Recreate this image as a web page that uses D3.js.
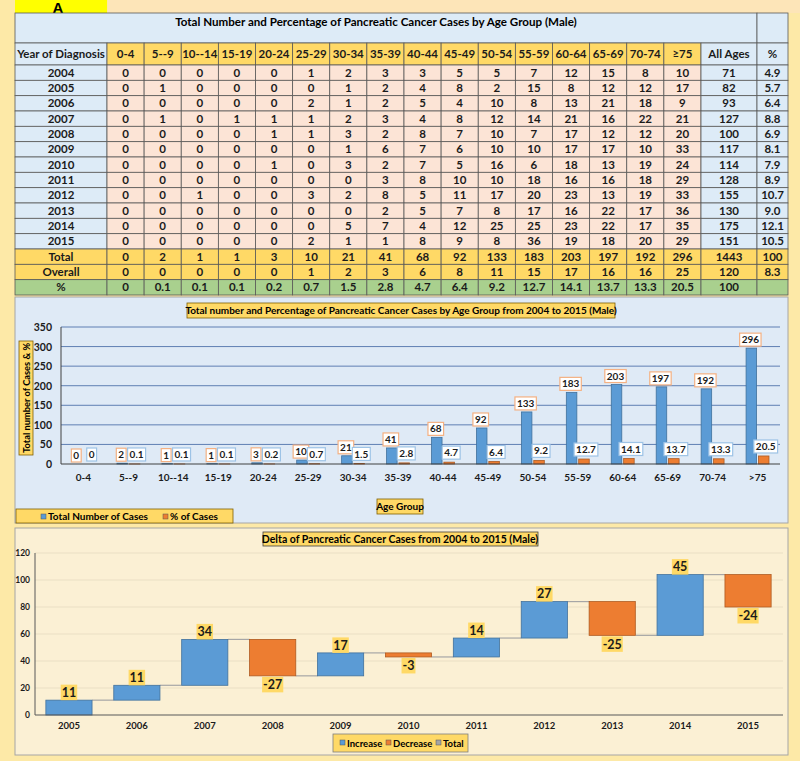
<!DOCTYPE html>
<html>
<head>
<meta charset="utf-8">
<script src="https://cdn.jsdelivr.net/npm/d3@7"></script>
<style>
  body { margin: 0; background: #fde9a7; }
  svg { display: block; font-family: Lato, 'Open Sans', sans-serif; font-weight: bold; }
</style>
</head>
<body>
<svg></svg>
<script>
var ageGroups = ['0-4','5--9','10--14','15-19','20-24','25-29','30-34','35-39','40-44','45-49','50-54','55-59','60-64','65-69','70-74','≥75'];
var chartAgeLabels = ['0-4','5--9','10--14','15-19','20-24','25-29','30-34','35-39','40-44','45-49','50-54','55-59','60-64','65-69','70-74','>75'];
var years = ['2004','2005','2006','2007','2008','2009','2010','2011','2012','2013','2014','2015'];
var casesByYear = [
  [0,0,0,0,0,1,2,3,3,5,5,7,12,15,8,10],
  [0,1,0,0,0,0,1,2,4,8,2,15,8,12,12,17],
  [0,0,0,0,0,2,1,2,5,4,10,8,13,21,18,9],
  [0,1,0,1,1,1,2,3,4,8,12,14,21,16,22,21],
  [0,0,0,0,1,1,3,2,8,7,10,7,17,12,12,20],
  [0,0,0,0,0,0,1,6,7,6,10,10,17,17,10,33],
  [0,0,0,0,1,0,3,2,7,5,16,6,18,13,19,24],
  [0,0,0,0,0,0,0,3,8,10,10,18,16,16,18,29],
  [0,0,1,0,0,3,2,8,5,11,17,20,23,13,19,33],
  [0,0,0,0,0,0,0,2,5,7,8,17,16,22,17,36],
  [0,0,0,0,0,0,5,7,4,12,25,25,23,22,17,35],
  [0,0,0,0,0,2,1,1,8,9,8,36,19,18,20,29]
];
var allAges = [71,82,93,127,100,117,114,128,155,130,175,151];
var allAgesPct = ['4.9','5.7','6.4','8.8','6.9','8.1','7.9','8.9','10.7','9.0','12.1','10.5'];
var totalCases = [0,2,1,1,3,10,21,41,68,92,133,183,203,197,192,296];
var overallCases = [0,0,0,0,0,1,2,3,6,8,11,15,17,16,16,25];
var pctCases = [0,0.1,0.1,0.1,0.2,0.7,1.5,2.8,4.7,6.4,9.2,12.7,14.1,13.7,13.3,20.5];
var deltaYears = ['2005','2006','2007','2008','2009','2010','2011','2012','2013','2014','2015'];
var deltas = [11,11,34,-27,17,-3,14,27,-25,45,-24];

var svg = d3.select('svg').attr('width', 800).attr('height', 761);

var gold = '#ffd966', peach = '#fce4d6', lblue = '#ddebf7', green = '#a9d08e';

// ---------- "A" tag ----------
svg.append('rect').attr('x', 108).attr('y', 0).attr('width', 692).attr('height', 13).attr('fill', '#fde5b8');
svg.append('rect').attr('x', 15).attr('y', 0).attr('width', 92).attr('height', 13).attr('fill', '#ffff00');
svg.append('text').attr('x', 58).attr('y', 13).attr('text-anchor', 'middle')
  .style('font-size', '15px').style('font-family', "'Liberation Sans', Arial").text('A');

// ---------- table ----------
var table = svg.append('g');
var colX = d3.scaleBand().domain(ageGroups).range([107, 701]);
var bodyRows = years.concat(['Total', 'Overall', '%']);
var rowY = d3.scaleBand().domain(bodyRows).range([65, 295]);

function cell(x, y, w, h, fill, txt) {
  table.append('rect').attr('x', x).attr('y', y).attr('width', w).attr('height', h)
    .attr('fill', fill).attr('stroke', '#595959').attr('stroke-width', 0.8);
  if (txt !== undefined && txt !== '') {
    table.append('text').attr('x', x + w / 2).attr('y', y + h / 2 + 4)
      .attr('text-anchor', 'middle').style('font-size', '11.5px').attr('fill', '#1b1b1b').text(txt);
  }
}

// title row
cell(15, 13, 742, 30, lblue);
cell(757, 13, 31, 30, lblue);
table.append('text').attr('x', 376).attr('y', 26).attr('text-anchor', 'middle')
  .style('font-size', '11.6px').text('Total Number and Percentage of Pancreatic Cancer Cases by Age Group (Male)');

// header row
cell(15, 43, 92, 22, lblue, 'Year of Diagnosis');
ageGroups.forEach(function(a) { cell(colX(a), 43, colX.bandwidth(), 22, gold, a); });
cell(701, 43, 56, 22, lblue, 'All Ages');
cell(757, 43, 31, 22, lblue, '%');

// body rows
bodyRows.forEach(function(r, i) {
  var y = rowY(r), h = rowY.bandwidth();
  var vals, all, pct, yearFill, cellFill, sideFill;
  if (i < years.length) {
    vals = casesByYear[i]; all = allAges[i]; pct = allAgesPct[i];
    yearFill = lblue; cellFill = peach; sideFill = lblue;
  } else if (r === 'Total') {
    vals = totalCases; all = d3.sum(totalCases); pct = '100';
    yearFill = cellFill = sideFill = gold;
  } else if (r === 'Overall') {
    vals = overallCases; all = 120; pct = '8.3';
    yearFill = cellFill = sideFill = gold;
  } else {
    vals = pctCases; all = 100; pct = '';
    yearFill = cellFill = sideFill = green;
  }
  cell(15, y, 92, h, yearFill, r);
  ageGroups.forEach(function(a, j) { cell(colX(a), y, colX.bandwidth(), h, cellFill, vals[j]); });
  cell(701, y, 56, h, sideFill, all);
  cell(757, y, 31, h, sideFill, pct);
});

// ---------- label box helper ----------
function boxLabel(g, cx, y, txt, size, fill, stroke, pad, below) {
  var t = g.append('text').attr('x', cx).attr('text-anchor', 'middle')
    .style('font-size', size + 'px').attr('fill', '#1b1b1b').text(txt);
  var w = t.node().getComputedTextLength() + pad, h = size + 3;
  var top = below ? y : y - h;
  t.attr('y', top + h / 2 + size * 0.36);
  g.insert('rect', function() { return t.node(); })
    .attr('x', cx - w / 2).attr('y', top).attr('width', w).attr('height', h)
    .attr('fill', fill).attr('stroke', stroke).attr('stroke-width', 1.2);
}

// ---------- bar chart panel ----------
var p2 = svg.append('g');
p2.append('rect').attr('x', 15).attr('y', 297).attr('width', 773).attr('height', 226)
  .attr('fill', '#dfeaf6').attr('stroke', '#a6a6a6');

var x = d3.scaleBand().domain(chartAgeLabels).range([61, 780]).paddingInner(0.49).paddingOuter(0.245);
var xSub = d3.scaleBand().domain(['n', 'p']).range([0, x.bandwidth()]).paddingInner(0.15);
var y = d3.scaleLinear().domain([0, 350]).range([464, 327]);

p2.append('g').selectAll('line').data(y.ticks(7).filter(function(d) { return d > 0; })).join('line')
  .attr('x1', 61).attr('x2', 780).attr('y1', d => y(d)).attr('y2', d => y(d))
  .attr('stroke', '#5f7fb3').attr('stroke-width', 1);

p2.append('g').selectAll('text').data(y.ticks(7)).join('text')
  .attr('x', 52).attr('y', d => y(d) + 4).attr('text-anchor', 'end')
  .style('font-size', '10.5px').attr('fill', '#1b1b1b').text(d => d);

p2.append('line').attr('x1', 61).attr('x2', 61).attr('y1', 327).attr('y2', 464).attr('stroke', '#404040');

var groups = p2.append('g').selectAll('g').data(chartAgeLabels).join('g')
  .attr('transform', d => 'translate(' + x(d) + ',0)');

groups.append('rect').attr('x', xSub('n')).attr('width', xSub.bandwidth())
  .attr('y', (d, i) => y(totalCases[i])).attr('height', (d, i) => y(0) - y(totalCases[i]))
  .attr('fill', '#5b9bd5').attr('stroke', '#41719c').attr('stroke-width', 0.8);
groups.append('rect').attr('x', xSub('p')).attr('width', xSub.bandwidth())
  .attr('y', (d, i) => y(pctCases[i])).attr('height', (d, i) => y(0) - y(pctCases[i]))
  .attr('fill', '#ed7d31').attr('stroke', '#ae5a21').attr('stroke-width', 0.8);

p2.append('line').attr('x1', 61).attr('x2', 780).attr('y1', 464).attr('y2', 464).attr('stroke', '#404040').attr('stroke-width', 1.2);

chartAgeLabels.forEach(function(d, i) {
  var bx = x(d) + xSub('n') + xSub.bandwidth() / 2 - 1;
  var px = x(d) + xSub('p') + xSub.bandwidth() / 2 + 2;
  boxLabel(p2, bx, y(totalCases[i]) - 2, totalCases[i], 10, '#ffffff', '#f4b183', 4);
  boxLabel(p2, px, Math.min(y(pctCases[i]) - 3, 461), pctCases[i], 10, '#ffffff', '#9dc3e6', 4);
});

p2.append('g').selectAll('text').data(chartAgeLabels).join('text')
  .attr('x', d => x(d) + x.bandwidth() / 2).attr('y', 481).attr('text-anchor', 'middle')
  .style('font-size', '10px').attr('fill', '#1b1b1b').text(d => d);

// titles / legend
p2.append('rect').attr('x', 187).attr('y', 303).attr('width', 428).attr('height', 15)
  .attr('fill', gold).attr('stroke', '#7f6000').attr('stroke-width', 0.8);
p2.append('text').attr('x', 401).attr('y', 314).attr('text-anchor', 'middle').style('font-size', '10px')
  .text('Total number and Percentage of Pancreatic Cancer Cases by Age Group from 2004 to 2015 (Male)');

p2.append('rect').attr('x', 19).attr('y', 341).attr('width', 14).attr('height', 114)
  .attr('fill', gold).attr('stroke', '#7f6000').attr('stroke-width', 0.8);
p2.append('text').attr('transform', 'translate(29.5,398) rotate(-90)').attr('text-anchor', 'middle')
  .style('font-size', '9.3px').text('Total number of Cases & %');

p2.append('rect').attr('x', 377).attr('y', 499).attr('width', 46).attr('height', 15)
  .attr('fill', gold).attr('stroke', '#7f6000').attr('stroke-width', 0.8);
p2.append('text').attr('x', 400).attr('y', 510).attr('text-anchor', 'middle').style('font-size', '10px').text('Age Group');

p2.append('rect').attr('x', 16).attr('y', 509).attr('width', 217).attr('height', 14)
  .attr('fill', gold).attr('stroke', '#7f6000').attr('stroke-width', 0.8);
[['Total Number of Cases', '#5b9bd5', 41], ['% of Cases', '#ed7d31', 163]].forEach(function(l) {
  p2.append('rect').attr('x', l[2]).attr('y', 514).attr('width', 5).attr('height', 5).attr('fill', l[1]).attr('stroke', '#555').attr('stroke-width', 0.5);
  p2.append('text').attr('x', l[2] + 7).attr('y', 520).style('font-size', '10px').text(l[0]);
});

// ---------- waterfall panel ----------
var p3 = svg.append('g');
p3.append('rect').attr('x', 15).attr('y', 528).attr('width', 773).attr('height', 227)
  .attr('fill', '#fbf0d4').attr('stroke', '#a6a6a6');

var x3 = d3.scaleBand().domain(deltaYears).range([35, 782]).paddingInner(0.32).paddingOuter(0.16);
var y3 = d3.scaleLinear().domain([0, 120]).range([715, 553]);
var ends = d3.cumsum(deltas);
var wf = deltas.map(function(d, i) { return { year: deltaYears[i], delta: d, start: ends[i] - d, end: ends[i] }; });

p3.append('g').selectAll('line').data(y3.ticks(6).filter(d => d > 0)).join('line')
  .attr('x1', 35).attr('x2', 783).attr('y1', d => y3(d)).attr('y2', d => y3(d))
  .attr('stroke', '#eadfc4').attr('stroke-width', 1);
p3.append('g').selectAll('text').data(y3.ticks(6)).join('text')
  .attr('x', 30).attr('y', d => y3(d) + 3).attr('text-anchor', 'end')
  .style('font-size', '8.5px').attr('fill', '#1b1b1b').text(d => d);

p3.append('line').attr('x1', 35).attr('x2', 35).attr('y1', 553).attr('y2', 715).attr('stroke', '#595959');

p3.append('g').selectAll('line').data(wf.slice(0, -1)).join('line')
  .attr('x1', d => x3(d.year) + x3.bandwidth()).attr('x2', (d, i) => x3(wf[i + 1].year))
  .attr('y1', d => y3(d.end)).attr('y2', d => y3(d.end))
  .attr('stroke', '#a6a6a6').attr('stroke-width', 1.2);

p3.append('g').selectAll('rect').data(wf).join('rect')
  .attr('x', d => x3(d.year)).attr('width', x3.bandwidth())
  .attr('y', d => y3(Math.max(d.start, d.end))).attr('height', d => Math.abs(y3(d.start) - y3(d.end)))
  .attr('fill', d => d.delta >= 0 ? '#5b9bd5' : '#ed7d31')
  .attr('stroke', d => d.delta >= 0 ? '#41719c' : '#ae5a21').attr('stroke-width', 0.8);

p3.append('line').attr('x1', 35).attr('x2', 783).attr('y1', 715).attr('y2', 715).attr('stroke', '#595959').attr('stroke-width', 1.2);

wf.forEach(function(d) {
  var cx = x3(d.year) + x3.bandwidth() / 2;
  if (d.delta >= 0) boxLabel(p3, cx, y3(d.end), d.delta, 12.5, gold, 'none', 2);
  else boxLabel(p3, cx, y3(d.end) + 1, d.delta, 12.5, gold, 'none', 2, true);
});

p3.append('g').selectAll('text').data(deltaYears).join('text')
  .attr('x', d => x3(d) + x3.bandwidth() / 2).attr('y', 729).attr('text-anchor', 'middle')
  .style('font-size', '9.5px').attr('fill', '#1b1b1b').text(d => d);

p3.append('rect').attr('x', 263).attr('y', 532).attr('width', 275).attr('height', 14)
  .attr('fill', gold).attr('stroke', '#3f3f3f').attr('stroke-width', 0.8);
p3.append('text').attr('x', 400).attr('y', 543).attr('text-anchor', 'middle').style('font-size', '10.5px')
  .text('Delta of Pancreatic Cancer Cases from 2004 to 2015 (Male)');

p3.append('rect').attr('x', 333).attr('y', 734).attr('width', 135).attr('height', 18)
  .attr('fill', gold).attr('stroke', '#7f7f7f').attr('stroke-width', 0.8);
[['Increase', '#5b9bd5', 340], ['Decrease', '#ed7d31', 386], ['Total', '#a5a5a5', 436]].forEach(function(l) {
  p3.append('rect').attr('x', l[2]).attr('y', 740).attr('width', 5).attr('height', 5).attr('fill', l[1]).attr('stroke', '#555').attr('stroke-width', 0.5);
  p3.append('text').attr('x', l[2] + 7).attr('y', 747).style('font-size', '9.5px').text(l[0]);
});
</script>
</body>
</html>
